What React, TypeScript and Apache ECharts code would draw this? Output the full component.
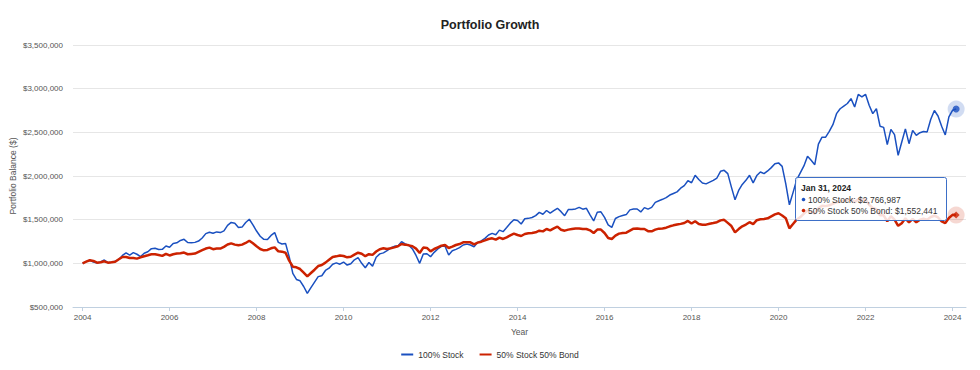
import React, { useEffect, useRef } from "react";
import * as echarts from "echarts";

// Monthly portfolio balances in thousands of dollars, starting Jan 2004 (initial value), ending Jan 31, 2024
const START_YEAR = 2004;
const SERIES_NAMES = ["100% Stock", "50% Stock 50% Bond"];
const STOCK_100_K = [
  1000, 1020, 1035, 1015, 1005, 1015, 1038, 1008, 1012, 1023, 1045, 1090,
  1120, 1095, 1122, 1104, 1078, 1115, 1132, 1168, 1172, 1158, 1160, 1198,
  1185, 1228, 1235, 1262, 1275, 1238, 1235, 1240, 1255, 1290, 1340, 1356,
  1345, 1360, 1352, 1372, 1435, 1468, 1460, 1411, 1415, 1468, 1505, 1440,
  1370, 1310, 1275, 1272, 1320, 1352, 1240, 1222, 1228, 1075, 885, 815,
  800, 735, 655, 722, 785, 848, 858, 918, 945, 990, 1005, 990,
  1015, 980, 995, 1040, 1065, 1000, 950, 1010, 968, 1070, 1108, 1120,
  1145, 1175, 1195, 1200, 1248, 1222, 1208, 1165, 1090, 1000, 1107, 1110,
  1076, 1126, 1164, 1195, 1195, 1095, 1145, 1160, 1180, 1210, 1220, 1210,
  1190, 1240, 1256, 1286, 1324, 1343, 1328, 1380, 1363, 1410, 1460, 1500,
  1490, 1450, 1510, 1515, 1525, 1546, 1584, 1562, 1605, 1574, 1603, 1630,
  1592, 1546, 1616, 1617, 1623, 1641, 1620, 1630, 1555, 1485, 1584, 1590,
  1527, 1440, 1412, 1513, 1535, 1548, 1558, 1612, 1621, 1622, 1589, 1638,
  1620, 1641, 1698, 1717, 1733, 1752, 1782, 1800, 1818, 1860, 1890, 1946,
  1923, 2008, 1960, 1920, 1910, 1930, 1950, 1977, 2054, 2065, 2027, 1873,
  1727, 1835, 1904, 1950, 2008, 1922, 2005, 2046, 2027, 2058, 2096, 2140,
  2150, 2110, 1910, 1670, 1810, 1955, 2035, 2115, 2225, 2180, 2130, 2365,
  2445, 2445, 2510, 2588, 2714, 2770, 2800, 2830, 2886, 2790, 2935, 2905,
  2935, 2810, 2714, 2770, 2570, 2557, 2360, 2534, 2473, 2237, 2390, 2540,
  2370, 2523, 2466, 2496, 2510, 2505, 2650, 2750, 2687, 2570, 2470, 2676,
  2752, 2766.987,
];
const STOCK_BOND_50_K = [
  1000, 1019, 1035, 1027, 1008, 1012, 1023, 1008, 1012, 1019, 1046, 1073,
  1073, 1062, 1062, 1054, 1069, 1081, 1092, 1104, 1104, 1096, 1085, 1108,
  1090, 1104, 1112, 1115, 1123, 1104, 1108, 1112, 1131, 1150, 1169, 1180,
  1162, 1169, 1169, 1188, 1215, 1229, 1214, 1206, 1214, 1233, 1258, 1229,
  1195, 1164, 1149, 1153, 1172, 1183, 1137, 1134, 1122, 1030, 962, 954,
  935, 893, 851, 889, 927, 969, 981, 1008, 1040, 1072, 1080, 1090,
  1084, 1069, 1075, 1100, 1122, 1110, 1082, 1105, 1097, 1135, 1162, 1172,
  1164, 1172, 1183, 1195, 1221, 1214, 1206, 1195, 1168, 1118, 1180, 1176,
  1137, 1164, 1183, 1202, 1210, 1176, 1191, 1210, 1221, 1240, 1240, 1240,
  1218, 1237, 1248, 1263, 1279, 1286, 1271, 1294, 1279, 1298, 1321, 1340,
  1324, 1313, 1336, 1344, 1347, 1355, 1374, 1366, 1393, 1378, 1400, 1420,
  1385, 1374, 1386, 1393, 1400, 1400, 1393, 1393, 1378, 1347, 1386, 1386,
  1347, 1290, 1279, 1317, 1340, 1347, 1351, 1374, 1397, 1400, 1393, 1393,
  1368, 1367, 1386, 1397, 1400, 1408, 1424, 1435, 1444, 1452, 1462, 1486,
  1456, 1482, 1450, 1441, 1443, 1454, 1462, 1471, 1492, 1498, 1463, 1427,
  1355, 1392, 1424, 1444, 1471, 1450, 1494, 1504, 1508, 1515, 1538, 1561,
  1573, 1548, 1517, 1400, 1450, 1500, 1530, 1570, 1605, 1590, 1570, 1630,
  1660, 1655, 1665, 1680, 1700, 1705, 1720, 1725, 1735, 1700, 1735, 1720,
  1730, 1670, 1635, 1620, 1550, 1550, 1480, 1540, 1500, 1430, 1460, 1515,
  1470, 1510, 1470, 1500, 1510, 1500, 1530, 1545, 1525, 1480, 1460, 1520,
  1555, 1552.441,
];
const X_TICK_YEARS = [2004, 2006, 2008, 2010, 2012, 2014, 2016, 2018, 2020, 2022, 2024];
const TOOLTIP_DATE = "Jan 31, 2024";

const BLUE = "#1a50c0";
const RED = "#cc2200";
const FONT = '"Liberation Sans", Arial, Helvetica, sans-serif';

const money = (v: number) => "$" + Math.round(v).toLocaleString("en-US");

export default function App() {
  const ref = useRef<HTMLDivElement>(null);
  useEffect(() => {
    if (!ref.current) return;
    const chart = echarts.init(ref.current, undefined, { renderer: "svg" });
    const toPts = (arr: number[]) => arr.map((v, i) => [START_YEAR + i / 12, v * 1000]);
    const stock = toPts(STOCK_100_K);
    const mix = toPts(STOCK_BOND_50_K);
    const lastS = stock[stock.length - 1];
    const lastM = mix[mix.length - 1];
    const Z = 100;

    chart.setOption({
      animation: false,
      textStyle: { fontFamily: FONT },
      title: {
        text: "Portfolio Growth",
        left: "center",
        top: 13,
        textStyle: { fontSize: 12.5, fontWeight: "bold", color: "#222", fontFamily: FONT },
      },
      legend: {
        data: [
          { name: SERIES_NAMES[0], icon: "rect", itemStyle: { color: BLUE } },
          { name: SERIES_NAMES[1], icon: "rect", itemStyle: { color: RED } },
        ],
        left: "center",
        top: 345,
        itemWidth: 12,
        itemHeight: 2,
        itemGap: 16,
        textStyle: { fontSize: 8.5, color: "#333", fontFamily: FONT },
      },
      grid: { left: 73, right: 14, top: 45, bottom: 63, containLabel: false, outerBoundsMode: "none" },
      xAxis: {
        type: "value",
        min: 2003.78,
        max: 2024.31,
        name: "Year",
        nameLocation: "middle",
        nameGap: 20,
        nameMoveOverlap: false,
        nameTextStyle: { fontSize: 8.5, color: "#555", fontFamily: FONT },
        axisLine: { show: true, lineStyle: { color: "#c0d0e0", width: 1 } },
        axisTick: { show: true, customValues: X_TICK_YEARS, length: 4, lineStyle: { color: "#c0d0e0" } },
        axisLabel: {
          customValues: X_TICK_YEARS,
          formatter: (v: number) => String(Math.round(v)),
          fontSize: 8,
          color: "#555",
          margin: 6,
          fontFamily: FONT,
        },
        splitLine: { show: false },
      },
      yAxis: {
        type: "value",
        min: 500000,
        max: 3500000,
        interval: 500000,
        name: "Portfolio Balance ($)",
        nameLocation: "middle",
        nameGap: 56,
        nameRotate: 90,
        nameMoveOverlap: false,
        nameTextStyle: { fontSize: 8.5, color: "#555", fontFamily: FONT },
        axisLine: { show: false },
        axisTick: { show: false },
        axisLabel: {
          formatter: (v: number) => money(v),
          fontSize: 8,
          color: "#555",
          margin: 10,
          fontFamily: FONT,
        },
        splitLine: { show: true, lineStyle: { color: "#e6e6e6", width: 1 } },
      },
      series: [
        {
          name: SERIES_NAMES[0],
          type: "line",
          data: stock,
          showSymbol: false,
          symbol: "none",
          lineStyle: { color: BLUE, width: 1.5 },
          itemStyle: { color: BLUE },
          z: 2,
        },
        {
          name: SERIES_NAMES[1],
          type: "line",
          data: mix,
          showSymbol: false,
          symbol: "none",
          lineStyle: { color: RED, width: 2.5 },
          itemStyle: { color: RED },
          z: 3,
        },
        {
          name: "haloS",
          type: "scatter",
          data: [lastS],
          symbolSize: 17,
          itemStyle: { color: "rgba(26,80,192,0.25)" },
          silent: true,
          z: 4,
        },
        {
          name: "dotS",
          type: "scatter",
          data: [lastS],
          symbolSize: 7,
          itemStyle: { color: BLUE },
          silent: true,
          z: 5,
        },
        {
          name: "haloM",
          type: "scatter",
          data: [lastM],
          symbolSize: 17,
          itemStyle: { color: "rgba(204,34,0,0.22)" },
          silent: true,
          z: 4,
        },
        {
          name: "dotM",
          type: "scatter",
          data: [lastM],
          symbol: "diamond",
          symbolSize: 7,
          itemStyle: { color: RED },
          silent: true,
          z: 5,
        },
      ],
      graphic: [
        {
          type: "rect",
          z: Z,
          shape: { x: 795.5, y: 177.5, width: 151, height: 43, r: 2 },
          style: { fill: "rgba(255,255,255,0.85)", stroke: "#3d6fc7", lineWidth: 1 },
        },
        {
          type: "text",
          z: Z + 1,
          x: 801,
          y: 188,
          style: {
            text: TOOLTIP_DATE,
            fontSize: 8.5,
            fontWeight: "bold",
            fontFamily: FONT,
            fill: "#222",
            verticalAlign: "middle",
          },
        },
        { type: "circle", z: Z + 1, shape: { cx: 803.5, cy: 199.5, r: 1.8 }, style: { fill: BLUE } },
        {
          type: "text",
          z: Z + 1,
          x: 808,
          y: 199.5,
          style: {
            text: `${SERIES_NAMES[0]}: ${money(lastS[1])}`,
            fontSize: 8.5,
            fontFamily: FONT,
            fill: "#333",
            verticalAlign: "middle",
          },
        },
        { type: "circle", z: Z + 1, shape: { cx: 803.5, cy: 210.5, r: 1.8 }, style: { fill: RED } },
        {
          type: "text",
          z: Z + 1,
          x: 808,
          y: 210.5,
          style: {
            text: `${SERIES_NAMES[1]}: ${money(lastM[1])}`,
            fontSize: 8.5,
            fontFamily: FONT,
            fill: "#333",
            verticalAlign: "middle",
          },
        },
      ],
    });
    return () => chart.dispose();
  }, []);

  return (
    <div
      ref={ref}
      style={{ position: "absolute", left: 0, top: 0, width: 980, height: 370, background: "#fff" }}
    />
  );
}
